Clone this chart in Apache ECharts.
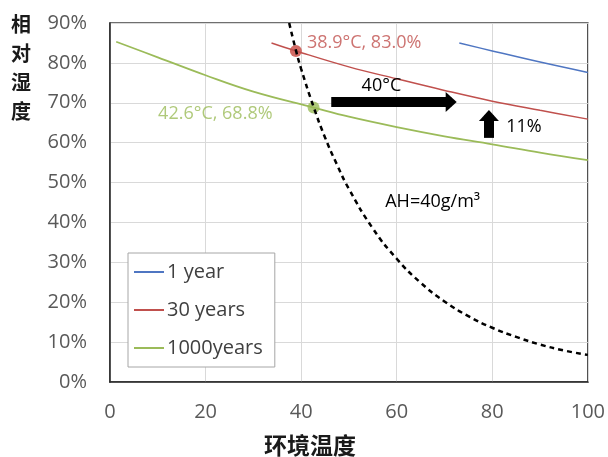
<!DOCTYPE html>
<html><head><meta charset="utf-8">
<script src="https://cdn.jsdelivr.net/npm/echarts@6/dist/echarts.min.js"></script>
<style>html,body{margin:0;padding:0;background:#fff;}#c{width:608px;height:457px;}</style>
</head><body><div id="c"></div>
<script>
// Data: [temperature °C, relative humidity %]
const xTicks = [0, 20, 40, 60, 80, 100];
const yTicks = [0, 10, 20, 30, 40, 50, 60, 70, 80, 90];
const seriesNames = ['1 year', '30 years', '1000years'];
const year1 = [[73.1, 85.0], [80, 83.0], [90, 80.2], [100, 77.6]];
const year30 = [[33.8, 85.0], [38.9, 83.0], [50, 79.0], [60, 76.0], [70, 73.1], [80, 70.4], [90, 68.1], [100, 65.9]];
const year1000 = [[1.3, 85.3], [10, 81.4], [20, 76.9], [30, 72.8], [42.6, 68.8], [50, 66.5], [60, 63.9], [70, 61.6], [80, 59.6], [90, 57.5], [100, 55.6]];
const ah40 = [[37.5, 90.0], [38.9, 83.2], [40, 78.5], [42.6, 69.0], [45, 61.3], [47.5, 54.5], [50, 48.4], [55, 38.5], [60, 30.9], [65, 24.9], [70, 20.2], [75, 16.5], [80, 13.6], [85, 11.3], [90, 9.4], [95, 7.9], [100, 6.8]];
const point30 = [38.9, 83.0];
const point1000 = [42.6, 68.8];
const arrowRight = [[46.3, 70.2], [71.4, 70.2]];
const arrowUp = [[79.3, 61.2], [79.3, 66.8]];
const notes = [
  {text: '40°C', at: [56.8, 74.2], align: 'center'},
  {text: '11%', at: [82.9, 63.9], align: 'left'},
  {text: 'AH=40g/m³', at: [57.6, 45.1], align: 'left'}
];

const F = '"Open Sans", "Noto Sans", sans-serif';
const CJK = '"Noto Sans CJK SC", sans-serif';
const chart = echarts.init(document.getElementById('c'), null, {renderer: 'canvas'});
const colors = ['#4F76C2', '#C0504D', '#9BBB59'];

chart.setOption({
  animation: false,
  grid: {left: 110, right: 19, top: 23, bottom: 75, show: true, borderColor: '#404040', borderWidth: 1.5, backgroundColor: 'transparent'},
  xAxis: {
    type: 'value', min: xTicks[0], max: xTicks[xTicks.length - 1], interval: 20,
    axisLine: {show: true, onZero: false, lineStyle: {color: '#262626', width: 1.5}},
    axisTick: {show: false},
    splitLine: {show: true, lineStyle: {color: '#D9D9D9', width: 1}},
    axisLabel: {color: '#595959', fontSize: 20, fontFamily: F, margin: 20}
  },
  yAxis: {
    type: 'value', min: yTicks[0], max: yTicks[yTicks.length - 1], interval: 10,
    axisLine: {show: true, lineStyle: {color: '#262626', width: 1.5}},
    axisTick: {show: false},
    splitLine: {show: true, lineStyle: {color: '#D9D9D9', width: 1}},
    axisLabel: {color: '#595959', fontSize: 20, fontFamily: F, margin: 23, formatter: '{value}%'}
  },
  legend: {
    orient: 'vertical', left: 128, top: 253,
    data: seriesNames.map(n => ({name: n, icon: 'rect'})),
    itemWidth: 30, itemHeight: 2, itemGap: 16,
    padding: [8, 12, 8, 6],
    borderColor: '#A6A6A6', borderWidth: 1, backgroundColor: '#fff',
    textStyle: {color: '#404040', fontSize: 20, fontFamily: F, lineHeight: 22, padding: [0, 0, 0, -2]}
  },
  series: [
    {name: seriesNames[0], type: 'line', data: year1, smooth: 0.4, showSymbol: false, lineStyle: {color: colors[0], width: 1.5}, itemStyle: {color: colors[0]}},
    {name: seriesNames[1], type: 'line', data: year30, smooth: 0.4, showSymbol: false, lineStyle: {color: colors[1], width: 1.5}, itemStyle: {color: colors[1]}},
    {name: seriesNames[2], type: 'line', data: year1000, smooth: 0.4, showSymbol: false, lineStyle: {color: colors[2], width: 1.8}, itemStyle: {color: colors[2]}},
    {name: 'AH', type: 'line', data: ah40, smooth: true, showSymbol: false, clip: true,
      lineStyle: {color: '#000', width: 2.5, type: [5, 4]},
      markLine: {
        silent: true, animation: false, symbol: ['none', 'triangle'], symbolSize: [20, 11],
        label: {show: false},
        lineStyle: {color: '#000', width: 10, type: 'solid', cap: 'butt'},
        data: [
          [{coord: arrowRight[0]}, {coord: arrowRight[1]}],
          [{coord: arrowUp[0]}, {coord: arrowUp[1]}]
        ]
      },
      markPoint: {
        silent: true, symbol: 'circle', symbolSize: 0,
        data: notes.map(n => ({coord: n.at, value: n.text,
          label: {show: true, formatter: n.text, position: 'inside', align: n.align, color: '#000', fontSize: 18, fontFamily: F}}))
      }
    },
    {name: 'p30', type: 'scatter', data: [point30], symbolSize: 12, itemStyle: {color: '#C8463F'},
      label: {show: true, position: 'right', offset: [0, -8], color: '#C0504D', fontSize: 18, fontFamily: F,
        formatter: p => p.value[0].toFixed(1) + '°C, ' + p.value[1].toFixed(1) + '%'}},
    {name: 'p1000', type: 'scatter', data: [point1000], symbolSize: 12, itemStyle: {color: '#9BBB59'},
      label: {show: true, position: 'left', offset: [-30, 6], color: '#9BBB59', fontSize: 18, fontFamily: F,
        formatter: p => p.value[0].toFixed(1) + '°C, ' + p.value[1].toFixed(1) + '%'}}
  ],
  graphic: [
    {type: 'text', left: 11, top: 10, style: {text: '相\n对\n湿\n度', font: 'bold 20px ' + CJK, lineHeight: 29, fill: '#1a1a1a'}},
    {type: 'text', x: 310, y: 445, style: {text: '环境温度', font: 'bold 23px ' + CJK, fill: '#1a1a1a', align: 'center', verticalAlign: 'middle'}}
  ]
});
</script></body></html>
